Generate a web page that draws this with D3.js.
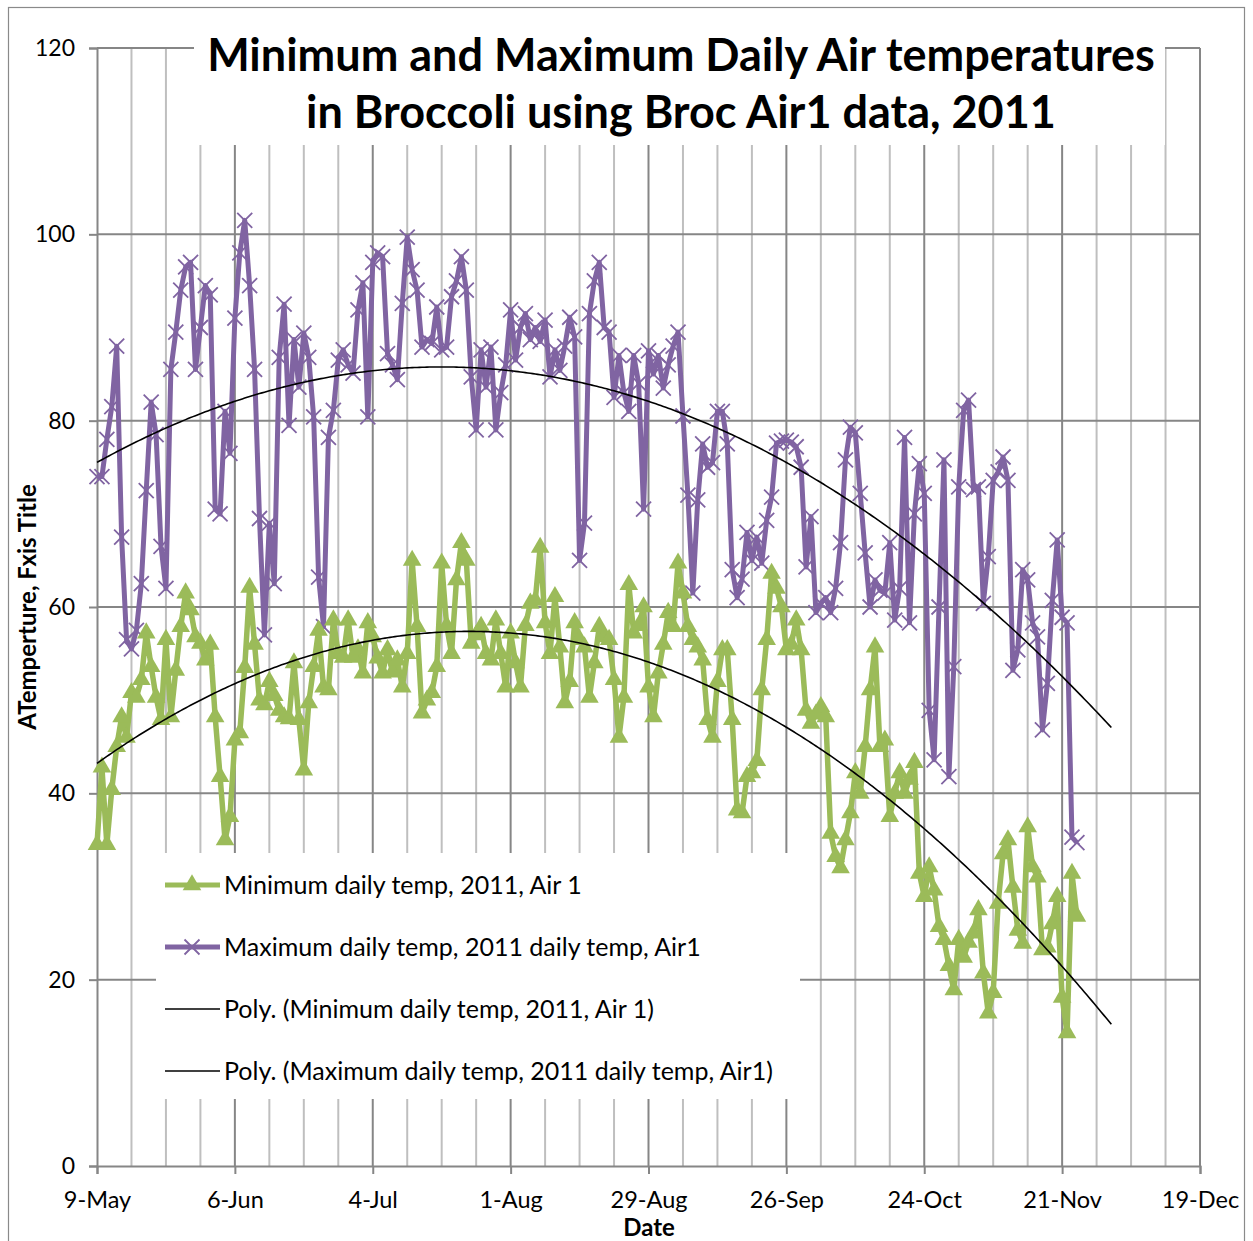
<!DOCTYPE html>
<html>
<head>
<meta charset="utf-8">
<script src="https://cdn.jsdelivr.net/npm/d3@7"></script>
<style>
  body { margin: 0; background: #fff; }
  svg { display: block; }
  text { font-family: Lato, "Noto Sans", sans-serif; fill: #000; }
</style>
</head>
<body>
<svg id="chart" width="1253" height="1241"></svg>
<script>
// Daily readings from Broc Air1, starting 9 May 2011 (one value per day)
const firstDay = "2011-05-09";

const maxTemps = [
  74, 74, 78, 81.5, 88, 67.5, 56.5, 55.5, 57.5, 62.5,
  72.5, 82, 78.5, 66.5, 62, 85.5, 89.5, 94, 96.5, 97,
  85.5, 90, 94.5, 93.5, 70.5, 70, 81, 76.5, 91, 98,
  101.5, 94.5, 85.5, 69.5, 57, 69, 62.5, 86.8, 92.5, 79.5,
  88.7, 83.6, 89.4, 86.8, 80.4, 63.2, 57.9, 78.2, 81.1, 86.5,
  87.6, 86, 85.1, 91.9, 94.8, 80.4, 97, 98, 97.6, 87.2,
  86, 84.4, 92.6, 99.7, 96.2, 94, 87.9, 88.7, 88.3, 92.2,
  87.6, 87.9, 93.3, 95, 97.6, 94, 84.7, 79, 87.6, 83.6,
  87.9, 79, 83, 86, 91.9, 86.5, 90, 91.5, 88.7, 90,
  88.5, 90.8, 84.7, 87.6, 85.4, 88, 91.1, 89, 65, 69,
  91.5, 95, 97, 90, 89.5, 82.5, 87, 83, 81, 87,
  84, 70.5, 87.5, 85, 87, 83.5, 86, 88, 89.5, 80.5,
  72, 61.5, 71.5, 77.5, 75, 75.5, 81, 81, 77.5, 64,
  61, 63, 68, 65, 67.5, 64.7, 69.3, 71.8, 77.6, 77.8,
  77.9, 77.7, 77.2, 75, 64.3, 69.7, 59.4, 60.4, 61, 59.4,
  62, 66.9, 75.8, 79.3, 78.7, 72.2, 65.8, 60, 62.9, 61.8,
  61.5, 66.9, 58.6, 62, 78.2, 58.3, 70, 75.4, 72.2, 48.9,
  43.6, 60, 75.8, 41.8, 53.6, 72.9, 81.1, 82.2, 72.6, 72.9,
  60.4, 65.4, 73.6, 74.5, 76.1, 73.6, 53.2, 55.4, 64, 62.9,
  58.3, 56.8, 46.8, 51.8, 60.7, 67.2, 58.9, 58.3, 35.3, 34.7
];

const minTemps = [
  34.5, 42.8, 34.5, 40.4, 45, 48.2, 46, 50.8, 50.3, 52.2,
  57.2, 53.6, 50.3, 47.9, 56.5, 48.2, 53.2, 57.9, 61.5, 59.7,
  56.8, 56.1, 54.3, 56, 48.2, 41.8, 35, 37.5, 45.7, 46.5,
  53.5, 62.1, 56, 50, 49.5, 52, 50.5, 48.9, 48.2, 48,
  54, 47.9, 42.5, 49.7, 53.6, 57.5, 51.4, 51.1, 58.6, 55,
  54.6, 58.6, 54.6, 55.5, 52.9, 58.3, 56.8, 54.5, 52.9, 55.4,
  53, 54.3, 51.4, 55, 65, 57.9, 48.6, 50, 50.8, 53.6,
  64.7, 58, 55, 62.9, 66.9, 65, 56.1, 57, 57.9, 55,
  54.3, 58.6, 55, 51.4, 57.2, 54, 51.4, 58, 60.4, 60.7,
  66.4, 58.3, 55, 61.1, 55.7, 49.7, 52, 58.3, 56.5, 55.7,
  50.3, 54, 57.9, 56.8, 56.5, 52.2, 46, 50.3, 62.4, 57.2,
  58, 60, 51.4, 48.2, 52.9, 56, 59.4, 57.9, 64.7, 61.5,
  57.9, 56.5, 55.7, 54.3, 47.9, 46, 52, 55.4, 55.4, 47.9,
  38.2, 37.9, 41.8, 42.2, 43.5, 51.1, 56.5, 63.6, 62, 60,
  55.4, 56, 58.6, 55.4, 48.9, 47.5, 48.5, 49.3, 48.2, 35.7,
  33.2, 32, 35, 37.9, 42.2, 40, 45, 51.1, 55.7, 45,
  45.7, 37.5, 40, 42.2, 40, 41.5, 43.3, 31.4, 28.9, 32.1,
  29.6, 25.7, 24.3, 21.5, 18.9, 24.3, 22.4, 24, 25, 27.5,
  20.7, 16.4, 18.6, 28.2, 33.5, 35, 29.9, 25.3, 23.9, 36.4,
  32.1, 31, 23.2, 23.5, 26, 28.9, 18.1, 14.3, 31.4, 26.8
];

const xTickLabels = ["9-May", "6-Jun", "4-Jul", "1-Aug", "29-Aug", "26-Sep", "24-Oct", "21-Nov", "19-Dec"];
const yTicks = [0, 20, 40, 60, 80, 100, 120];

const seriesNames = [
  "Minimum daily temp, 2011, Air 1",
  "Maximum daily temp, 2011 daily temp, Air1",
  "Poly. (Minimum daily temp, 2011, Air 1)",
  "Poly. (Maximum daily temp, 2011 daily temp, Air1)"
];
const titleLines = ["Minimum and Maximum Daily Air temperatures", "in Broccoli using Broc Air1 data, 2011"];
const yTitle = "ATemperture, Fxis Title";
const xTitle = "Date";

// ---- setup ----
const parse = d3.utcParse("%Y-%m-%d");
const start = parse(firstDay);
const dayAt = i => d3.utcDay.offset(start, i);
const tickDates = xTickLabels.map((_, i) => dayAt(i * 28));

const plot = { left: 97, right: 1200, top: 48, bottom: 1166 };
const x = d3.scaleUtc().domain([tickDates[0], tickDates[tickDates.length - 1]]).range([plot.left, plot.right]);
const y = d3.scaleLinear().domain([0, 120]).range([plot.bottom, plot.top]);

const GREEN = "#9bbb59", PURPLE = "#8064a2", MAJOR = "#868686", MINOR = "#bfbfbf";

const svg = d3.select("#chart");

// outer chart border
svg.append("rect").attr("x", 8.5).attr("y", 7.5).attr("width", 1236).attr("height", 1245)
  .attr("fill", "none").attr("stroke", "#8a8a8a").attr("stroke-width", 1.2);

// ---- gridlines ----
const grid = svg.append("g");
const weekDays = d3.range(7, 225, 7);
grid.selectAll("line.v").data(weekDays).join("line")
  .attr("x1", d => x(dayAt(d))).attr("x2", d => x(dayAt(d)))
  .attr("y1", plot.top).attr("y2", plot.bottom)
  .attr("stroke", d => d % 28 === 0 ? MAJOR : MINOR).attr("stroke-width", 2);
grid.selectAll("line.h").data(yTicks.filter(v => v > 0)).join("line")
  .attr("x1", plot.left).attr("x2", plot.right)
  .attr("y1", d => y(d)).attr("y2", d => y(d))
  .attr("stroke", MAJOR).attr("stroke-width", 2);

// ---- axes ----
const xAxis = svg.append("g").attr("transform", `translate(0,${plot.bottom})`)
  .call(d3.axisBottom(x).tickValues(tickDates).tickSize(8).tickPadding(17)
    .tickFormat((d, i) => xTickLabels[i]));
xAxis.selectAll("path.domain, line").attr("stroke", MAJOR).attr("stroke-width", 2);
xAxis.selectAll("text").attr("font-size", 23.5).attr("font-family", "Lato, sans-serif").attr("fill", "#000");

const yAxis = svg.append("g").attr("transform", `translate(${plot.left},0)`)
  .call(d3.axisLeft(y).tickValues(yTicks).tickSize(8).tickPadding(14));
yAxis.selectAll("path.domain, line").attr("stroke", MAJOR).attr("stroke-width", 2);
yAxis.selectAll("text").attr("font-size", 23).attr("font-family", "Lato, sans-serif").attr("fill", "#000");

// ---- title area (white panel over the grid) ----
svg.append("rect").attr("x", 194).attr("y", 26).attr("width", 971).attr("height", 119).attr("fill", "#fff");
svg.append("g").selectAll("text").data(titleLines).join("text")
  .attr("x", 681).attr("y", (d, i) => 71 + i * 57)
  .attr("text-anchor", "middle").attr("font-size", 45).attr("font-weight", 700)
  .text(d => d);

// ---- polynomial trend (least squares, order 2) ----
function polyFit(ys, order) {
  const n = order + 1;
  const A = Array.from({ length: n }, () => new Array(n + 1).fill(0));
  ys.forEach((v, i) => {
    for (let r = 0; r < n; r++) {
      for (let c = 0; c < n; c++) A[r][c] += Math.pow(i, r + c);
      A[r][n] += v * Math.pow(i, r);
    }
  });
  for (let p = 0; p < n; p++) {
    let best = p;
    for (let r = p + 1; r < n; r++) if (Math.abs(A[r][p]) > Math.abs(A[best][p])) best = r;
    [A[p], A[best]] = [A[best], A[p]];
    for (let r = 0; r < n; r++) {
      if (r === p) continue;
      const f = A[r][p] / A[p][p];
      for (let c = p; c <= n; c++) A[r][c] -= f * A[p][c];
    }
  }
  const coef = A.map((row, i) => row[n] / row[i]);
  return t => coef.reduce((s, c, k) => s + c * Math.pow(t, k), 0);
}
const forecastDays = 7;
const trendSteps = d3.range(0, maxTemps.length - 1 + forecastDays + 0.01, 0.5);
const trendLine = fn => d3.line().x(t => x(d3.utcHour.offset(start, t * 24))).y(t => y(fn(t)));

const fMin = polyFit(minTemps, 2), fMax = polyFit(maxTemps, 2);

// ---- series ----
const lineGen = d3.line().x((d, i) => x(dayAt(i))).y(d => y(d));
const series = svg.append("g");

series.append("path").datum(maxTemps).attr("d", lineGen)
  .attr("fill", "none").attr("stroke", PURPLE).attr("stroke-width", 5).attr("stroke-linejoin", "round");
const xr = 7.5;
series.append("g").selectAll("path").data(maxTemps).join("path")
  .attr("transform", (d, i) => `translate(${x(dayAt(i))},${y(d)})`)
  .attr("d", `M${-xr},${-xr}L${xr},${xr}M${-xr},${xr}L${xr},${-xr}`)
  .attr("stroke", PURPLE).attr("stroke-width", 1.8).attr("fill", "none");

series.append("path").datum(minTemps).attr("d", lineGen)
  .attr("fill", "none").attr("stroke", GREEN).attr("stroke-width", 5.5).attr("stroke-linejoin", "round");
const tri = d3.symbol(d3.symbolTriangle, 150)();
series.append("g").selectAll("path").data(minTemps).join("path")
  .attr("transform", (d, i) => `translate(${x(dayAt(i))},${y(d)})`)
  .attr("d", tri).attr("fill", GREEN);

series.append("path").datum(trendSteps).attr("d", trendLine(fMax))
  .attr("fill", "none").attr("stroke", "#000").attr("stroke-width", 1.6);
series.append("path").datum(trendSteps).attr("d", trendLine(fMin))
  .attr("fill", "none").attr("stroke", "#000").attr("stroke-width", 1.6);

// ---- legend ----
const legend = svg.append("g");
legend.append("rect").attr("x", 156).attr("y", 853).attr("width", 644).attr("height", 246).attr("fill", "#fff");
const rows = legend.selectAll("g.row").data(seriesNames).join("g")
  .attr("transform", (d, i) => `translate(165,${885 + i * 62})`);
rows.append("line").attr("x1", 0).attr("x2", 55).attr("y1", 0).attr("y2", 0)
  .attr("stroke", (d, i) => i === 0 ? GREEN : i === 1 ? PURPLE : "#000")
  .attr("stroke-width", (d, i) => i < 2 ? 5 : 1.6);
rows.filter((d, i) => i === 0).append("path").attr("transform", "translate(27,0)")
  .attr("d", tri).attr("fill", GREEN);
rows.filter((d, i) => i === 1).append("path").attr("transform", "translate(27,0)")
  .attr("d", `M${-xr},${-xr}L${xr},${xr}M${-xr},${xr}L${xr},${-xr}`)
  .attr("stroke", PURPLE).attr("stroke-width", 1.8);
rows.append("text").attr("x", 59).attr("y", 8.5).attr("font-size", 25).text(d => d);

// ---- axis titles ----
svg.append("text").attr("transform", "translate(36,607) rotate(-90)")
  .attr("text-anchor", "middle").attr("font-size", 24).attr("font-weight", 700).text(yTitle);
svg.append("text").attr("x", 649).attr("y", 1236)
  .attr("text-anchor", "middle").attr("font-size", 24).attr("font-weight", 700).text(xTitle);
</script>
</body>
</html>
